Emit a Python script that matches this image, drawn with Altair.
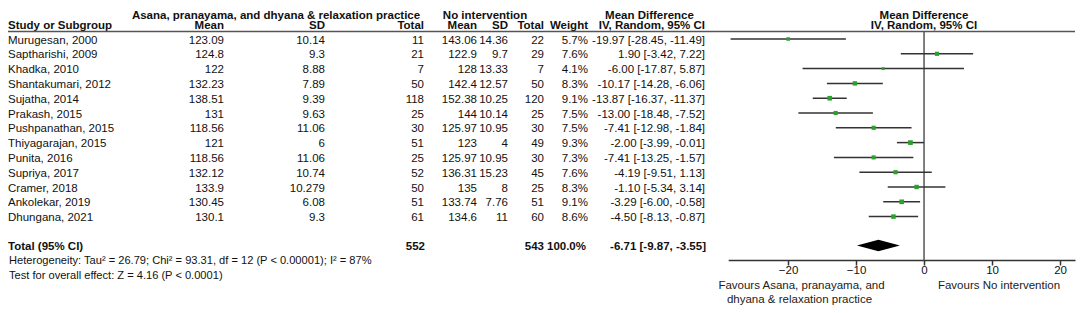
import altair as alt
import pandas as pd

# ---------------- data ----------------
studies = ["Murugesan, 2000", "Saptharishi, 2009", "Khadka, 2010", "Shantakumari, 2012",
           "Sujatha, 2014", "Prakash, 2015", "Pushpanathan, 2015", "Thiyagarajan, 2015",
           "Punita, 2016", "Supriya, 2017", "Cramer, 2018", "Ankolekar, 2019", "Dhungana, 2021"]
mean1 = ["123.09", "124.8", "122", "132.23", "138.51", "131", "118.56", "121", "118.56",
         "132.12", "133.9", "130.45", "130.1"]
sd1 = ["10.14", "9.3", "8.88", "7.89", "9.39", "9.63", "11.06", "6", "11.06", "10.74",
       "10.279", "6.08", "9.3"]
n1 = [11, 21, 7, 50, 118, 25, 30, 51, 25, 52, 50, 51, 61]
mean2 = ["143.06", "122.9", "128", "142.4", "152.38", "144", "125.97", "123", "125.97",
         "136.31", "135", "133.74", "134.6"]
sd2 = ["14.36", "9.7", "13.33", "12.57", "10.25", "10.14", "10.95", "4", "10.95", "15.23",
       "8", "7.76", "11"]
n2 = [22, 29, 7, 50, 120, 25, 30, 49, 30, 45, 25, 51, 60]
weight = [5.7, 7.6, 4.1, 8.3, 9.1, 7.5, 7.5, 9.3, 7.3, 7.6, 8.3, 9.1, 8.6]
md = [-19.97, 1.90, -6.00, -10.17, -13.87, -13.00, -7.41, -2.00, -7.41, -4.19, -1.10, -3.29, -4.50]
lo = [-28.45, -3.42, -17.87, -14.28, -16.37, -18.48, -12.98, -3.99, -13.25, -9.51, -5.34, -6.00, -8.13]
hi = [-11.49, 7.22, 5.87, -6.06, -11.37, -7.52, -1.84, -0.01, -1.57, 1.13, 3.14, -0.58, -0.87]

total_n1 = 552
total_n2 = 543
total_w = 100.0
total_md, total_lo, total_hi = -6.71, -9.87, -3.55

heterogeneity = "Heterogeneity: Tau² = 26.79; Chi² = 93.31, df = 12 (P < 0.00001); I² = 87%"
overall = "Test for overall effect: Z = 4.16 (P < 0.0001)"
group1 = "Asana, pranayama, and dhyana & relaxation practice"
group2 = "No intervention"
fav_left = ["Favours Asana, pranayama, and", "dhyana & relaxation practice"]
fav_right = "Favours No intervention"
tick_values = [-20, -10, 0, 10, 20]

# ---------------- tables ----------------
rows = list(range(len(studies)))
df = pd.DataFrame({
    "row": rows, "study": studies, "m1": mean1, "s1": sd1, "n1": [str(v) for v in n1],
    "m2": mean2, "s2": sd2, "n2": [str(v) for v in n2],
    "w": [f"{v:.1f}%" for v in weight], "md": md, "lo": lo, "hi": hi, "weight": weight,
    "ci": [f"{m:.2f} [{a:.2f}, {b:.2f}]" for m, a, b in zip(md, lo, hi)],
})

TOTAL_ROW = 13.95
diamond = pd.DataFrame({
    "x": [total_lo, total_md, total_hi],
    "y": [TOTAL_ROW, TOTAL_ROW - 0.39, TOTAL_ROW],
    "y2": [TOTAL_ROW, TOTAL_ROW + 0.39, TOTAL_ROW],
})

FONT = "Liberation Sans"
FS = 11.5
TXT = "#111111"
GREEN = "#2ca02c"
DY = 1.5

YS = alt.Scale(domain=[0, 12], range=[21, 21 + 14.8 * 12])
XS = alt.Scale(domain=[-28.8, 22.2], range=[720.2, 1067])
XAXIS = alt.Axis(values=tick_values, title=None, grid=False, domainColor="#333333",
                 domainWidth=1.5, tickColor="#333333", tickWidth=1.5, tickSize=5,
                 labelPadding=-1, labelFont=FONT, labelFontSize=FS, labelColor=TXT,
                 labelFlush=False, labelOverlap=False)


def Y(field="row"):
    return alt.Y(f"{field}:Q", scale=YS, axis=None)


def X(field):
    return alt.X(f"{field}:Q", scale=XS, axis=XAXIS)


def label(text, x, row, align="left", bold=False, color=TXT, size=FS):
    return alt.Chart(pd.DataFrame({"row": [row]})).mark_text(
        text=text, align=align, baseline="middle", font=FONT, fontSize=size, dy=DY,
        fontWeight="bold" if bold else "normal", color=color,
    ).encode(x=alt.value(x), y=Y())


def column(field, x, align="right"):
    return alt.Chart(df).mark_text(
        align=align, baseline="middle", font=FONT, fontSize=FS, color=TXT, dy=DY
    ).encode(x=alt.value(x), y=Y(), text=f"{field}:N")


layers = []

# headers
H1, H2 = -1.68, -0.98
layers += [
    label(group1, 268, H1, "center", True),
    label(group2, 477, H1, "center", True),
    label("Mean Difference", 641.5, H1, "center", True),
    label("Mean Difference", 916, H1, "center", True),
    label("Study or Subgroup", 0, H2, "left", True),
    label("Mean", 216, H2, "right", True),
    label("SD", 317, H2, "right", True),
    label("Total", 416, H2, "right", True),
    label("Mean", 469, H2, "right", True),
    label("SD", 500, H2, "right", True),
    label("Total", 536, H2, "right", True),
    label("Weight", 580, H2, "right", True),
    label("IV, Random, 95% CI", 697, H2, "right", True),
    label("IV, Random, 95% CI", 916, H2, "center", True),
]

# header rule
layers.append(
    alt.Chart(pd.DataFrame({"row": [-0.5]})).mark_rule(color="#555555", strokeWidth=1.5)
    .encode(x=alt.value(0), x2=alt.value(1067), y=Y())
)

# table columns
layers += [
    column("study", 0, "left"),
    column("m1", 216), column("s1", 317), column("n1", 416),
    column("m2", 469), column("s2", 500), column("n2", 536),
    column("w", 580), column("ci", 697),
]

# totals and footer
layers += [
    label("Total (95% CI)", 0, TOTAL_ROW, "left", True),
    label(str(total_n1), 417, TOTAL_ROW, "right", True),
    label(str(total_n2), 536, TOTAL_ROW, "right", True),
    label(f"{total_w:.1f}%", 578, TOTAL_ROW, "right", True),
    label(f"{total_md:.2f} [{total_lo:.2f}, {total_hi:.2f}]", 698, TOTAL_ROW, "right", True),
    label(heterogeneity, 1, 14.93, "left", False, size=11.1),
    label(overall, 1, 15.88, "left", False, size=11.1),
]

# zero line
layers.append(
    alt.Chart(pd.DataFrame({"x": [0], "row": [-0.5], "row2": [14.95]}))
    .mark_rule(color="#555555", strokeWidth=1.5)
    .encode(x=X("x"), y=Y("row"), y2="row2:Q")
)

# CI lines
layers.append(
    alt.Chart(df).mark_rule(color="#333333", strokeWidth=1.5)
    .encode(x=X("lo"), x2="hi:Q", y=Y())
)

# study squares
layers.append(
    alt.Chart(df).mark_square(color=GREEN, opacity=1, strokeWidth=0)
    .encode(x=X("md"), y=Y(),
            size=alt.Size("weight:Q", scale=alt.Scale(domain=[4, 10], range=[8, 24]), legend=None))
)

# diamond
layers.append(
    alt.Chart(diamond).mark_area(color="black", opacity=1)
    .encode(x=X("x"), y=Y("y"), y2="y2:Q")
)

# favours labels
layers += [
    label(fav_left[0], 793.5, 16.62, "center", False, color="#222222"),
    label(fav_left[1], 791.5, 17.55, "center", False, color="#222222"),
    label(fav_right, 991, 16.62, "center", False, color="#222222"),
]

chart = alt.layer(*layers).properties(
    width=1068, height=242,
    autosize=alt.AutoSizeParams(type="none"),
    padding={"left": 0, "right": 0, "top": 10, "bottom": 45},
    background="white",
).configure_view(stroke=None)

chart.save("out.html", embed_options={"renderer": "svg", "actions": False})
